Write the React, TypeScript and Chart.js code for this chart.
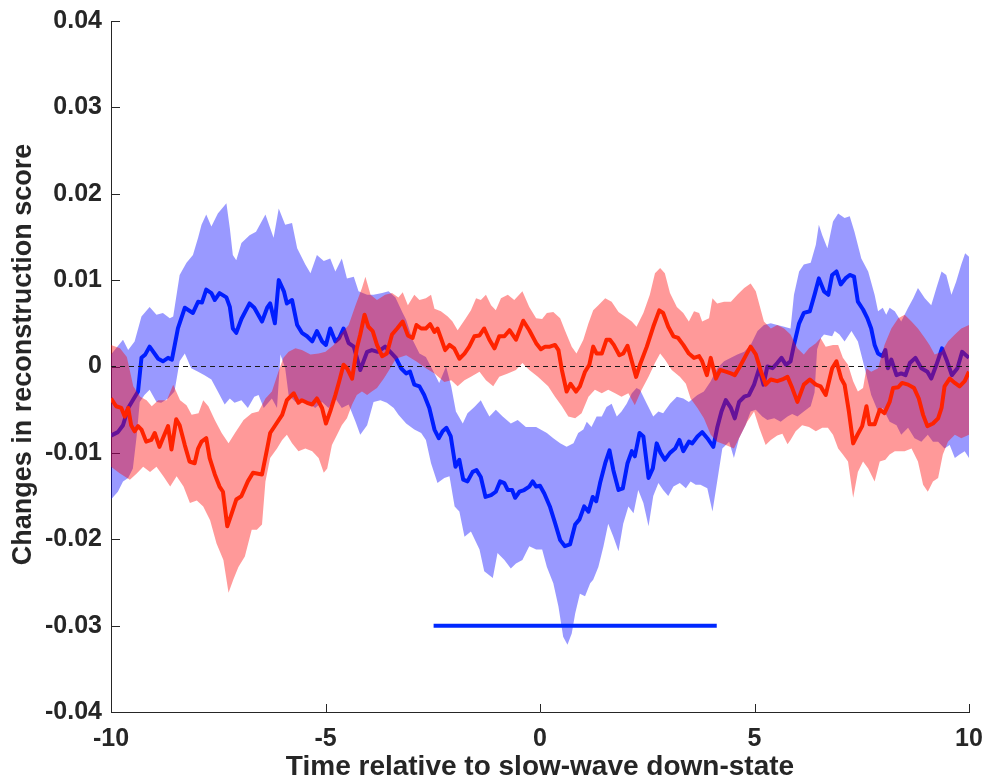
import React, { useEffect, useRef } from "react";
import { Chart, registerables } from "chart.js";

Chart.register(...registerables);

// ---- data (time in s, value = change in reconstruction score) ----
const blueMean: [number, number][] = [
  [-10, -0.008], [-9.84, -0.0076], [-9.72, -0.0068], [-9.6, -0.0048], [-9.37, -0.0029], [-9.29, 0.001],
  [-9.2, 0.0014], [-9.1, 0.0023], [-8.9, 0.0009], [-8.79, 0.0006], [-8.67, 0.001], [-8.58, 0.0008],
  [-8.44, 0.0044], [-8.28, 0.0068], [-8.09, 0.0062], [-7.97, 0.0075], [-7.88, 0.0074], [-7.78, 0.0089],
  [-7.66, 0.0085], [-7.58, 0.0077], [-7.47, 0.0085], [-7.31, 0.008], [-7.23, 0.0069], [-7.16, 0.0044],
  [-7.08, 0.0039], [-6.96, 0.0055], [-6.77, 0.0073], [-6.66, 0.0068], [-6.48, 0.0052], [-6.36, 0.0068],
  [-6.29, 0.0073], [-6.18, 0.005], [-6.09, 0.01], [-5.97, 0.0087], [-5.9, 0.0073], [-5.78, 0.0077],
  [-5.66, 0.0048], [-5.55, 0.0039], [-5.43, 0.0035], [-5.31, 0.0029], [-5.2, 0.0041], [-5.08, 0.0029],
  [-4.99, 0.0025], [-4.89, 0.0044], [-4.77, 0.0029], [-4.68, 0.0033], [-4.58, 0.0044], [-4.46, 0.0027],
  [-4.34, 0.0023], [-4.19, -0.0004], [-4.03, 0.0017], [-3.92, 0.0019], [-3.78, 0.0017], [-3.61, 0.0023],
  [-3.49, 0.0017], [-3.36, 0.001], [-3.24, -0.0002], [-3.12, -0.0008], [-3.03, -0.0006], [-2.93, -0.0021],
  [-2.81, -0.0023], [-2.7, -0.0033], [-2.58, -0.0048], [-2.46, -0.0073], [-2.36, -0.0083], [-2.27, -0.0075],
  [-2.18, -0.0071], [-2.08, -0.0081], [-1.97, -0.0116], [-1.88, -0.0108], [-1.79, -0.0131], [-1.69, -0.0133],
  [-1.57, -0.0122], [-1.48, -0.012], [-1.38, -0.0128], [-1.27, -0.0151], [-1.14, -0.0149], [-1.03, -0.0145],
  [-0.93, -0.0133], [-0.83, -0.0135], [-0.75, -0.0143], [-0.65, -0.0143], [-0.58, -0.0152], [-0.48, -0.0145],
  [-0.37, -0.0143], [-0.25, -0.0139], [-0.17, -0.0133], [-0.09, -0.0139], [0, -0.0138], [0.1, -0.0147],
  [0.23, -0.0162], [0.35, -0.0181], [0.47, -0.0201], [0.58, -0.0208], [0.7, -0.0206], [0.82, -0.0183],
  [0.92, -0.0177], [1.03, -0.0162], [1.13, -0.0168], [1.23, -0.0151], [1.31, -0.0156], [1.4, -0.0135],
  [1.52, -0.0112], [1.62, -0.0097], [1.71, -0.012], [1.83, -0.0143], [1.93, -0.0141], [2.04, -0.0112],
  [2.14, -0.0098], [2.21, -0.0104], [2.32, -0.0077], [2.41, -0.0081], [2.53, -0.0129], [2.63, -0.0118],
  [2.72, -0.0089], [2.81, -0.01], [2.91, -0.0108], [3.03, -0.01], [3.15, -0.0095], [3.25, -0.0085],
  [3.34, -0.0098], [3.47, -0.0087], [3.55, -0.0089], [3.67, -0.0081], [3.78, -0.0076], [3.9, -0.0083],
  [4.04, -0.0093], [4.13, -0.0071], [4.23, -0.0052], [4.33, -0.0039], [4.45, -0.0048], [4.54, -0.006],
  [4.64, -0.0041], [4.76, -0.0035], [4.87, -0.0033], [4.99, -0.0021], [5.11, -0.0002], [5.21, -0.0021],
  [5.3, 0], [5.42, -0.0002], [5.53, 0.0004], [5.63, 0.001], [5.73, 0.0002], [5.84, 0.0006],
  [5.92, 0.0025], [6.04, 0.005], [6.15, 0.0062], [6.29, 0.0064], [6.41, 0.0085], [6.5, 0.0102],
  [6.62, 0.0087], [6.72, 0.0083], [6.81, 0.0106], [6.91, 0.011], [7.01, 0.0095], [7.12, 0.0102],
  [7.22, 0.0106], [7.32, 0.0104], [7.41, 0.0075], [7.53, 0.0066], [7.63, 0.0056], [7.72, 0.0044],
  [7.8, 0.0025], [7.88, 0.0015], [7.98, 0.0012], [8.05, 0.0019], [8.11, -0.0002], [8.19, 0.0008],
  [8.31, -0.001], [8.42, -0.0008], [8.52, -0.001], [8.62, 0.0004], [8.75, 0.001], [8.89, -0.0002],
  [9.03, -0.0006], [9.12, -0.0014], [9.24, 0.0002], [9.37, 0.0021], [9.49, 0.0006], [9.6, -0.001],
  [9.73, -0.0002], [9.84, 0.0017], [9.91, 0.0014], [10, 0.001],
];

const blueUpper: [number, number][] = [
  [-10, 0.0014], [-9.72, 0.0031], [-9.6, 0.0019], [-9.45, 0.0029], [-9.29, 0.0058], [-9.1, 0.0069],
  [-8.94, 0.006], [-8.79, 0.0062], [-8.63, 0.0056], [-8.55, 0.0058], [-8.4, 0.0106], [-8.24, 0.012],
  [-8.09, 0.0129], [-7.97, 0.0149], [-7.89, 0.0164], [-7.78, 0.0176], [-7.66, 0.0162], [-7.51, 0.0177],
  [-7.31, 0.0189], [-7.23, 0.016], [-7.16, 0.0129], [-7.08, 0.0123], [-6.96, 0.0143], [-6.77, 0.0152],
  [-6.62, 0.0156], [-6.4, 0.0176], [-6.21, 0.0149], [-6.09, 0.0183], [-5.94, 0.0164], [-5.78, 0.0166],
  [-5.66, 0.0137], [-5.47, 0.0118], [-5.35, 0.0108], [-5.2, 0.0129], [-5.04, 0.0122], [-4.89, 0.0125],
  [-4.77, 0.011], [-4.62, 0.0125], [-4.5, 0.0102], [-4.34, 0.0104], [-4.23, 0.0087], [-4.03, 0.0083],
  [-3.88, 0.0083], [-3.68, 0.0085], [-3.53, 0.0087], [-3.37, 0.008], [-3.2, 0.0062], [-3.12, 0.0054],
  [-2.97, 0.0031], [-2.81, 0.0015], [-2.66, 0.0011], [-2.46, -0.0008], [-2.35, -0.0019], [-2.19, 0],
  [-2.07, -0.0023], [-1.96, -0.0052], [-1.8, -0.0066], [-1.69, -0.0054], [-1.53, -0.0047], [-1.38, -0.0039],
  [-1.3, -0.0047], [-1.18, -0.0058], [-1.03, -0.005], [-0.87, -0.0058], [-0.68, -0.0066], [-0.52, -0.0062],
  [-0.33, -0.007], [-0.09, -0.007], [0.16, -0.0077], [0.31, -0.0083], [0.47, -0.0089], [0.62, -0.0093],
  [0.78, -0.0089], [0.89, -0.0077], [1.01, -0.0073], [1.09, -0.0064], [1.2, -0.007], [1.32, -0.0058],
  [1.44, -0.0058], [1.55, -0.0047], [1.67, -0.0043], [1.79, -0.0058], [1.9, -0.0052], [2.02, -0.0043],
  [2.14, -0.0031], [2.25, -0.0025], [2.33, -0.0027], [2.49, -0.0043], [2.64, -0.0058], [2.76, -0.0052],
  [2.87, -0.0054], [3.03, -0.0043], [3.19, -0.0035], [3.34, -0.0037], [3.47, -0.0041], [3.67, -0.0033],
  [3.82, -0.0029], [3.98, -0.0017], [4.13, -0.0002], [4.29, 0.0006], [4.45, 0.001], [4.6, 0.0014],
  [4.76, 0.0017], [4.91, 0.0025], [5.07, 0.0041], [5.22, 0.0048], [5.38, 0.005], [5.53, 0.0048],
  [5.69, 0.0046], [5.84, 0.0044], [5.92, 0.0083], [6.04, 0.011], [6.15, 0.0118], [6.31, 0.012],
  [6.43, 0.0141], [6.5, 0.0164], [6.58, 0.0152], [6.7, 0.0137], [6.83, 0.0168], [6.95, 0.0177],
  [7.1, 0.0172], [7.22, 0.0174], [7.33, 0.0156], [7.49, 0.0125], [7.65, 0.011], [7.8, 0.0083],
  [7.88, 0.0064], [7.99, 0.0068], [8.07, 0.006], [8.15, 0.0068], [8.27, 0.0064], [8.42, 0.0052],
  [8.58, 0.0068], [8.7, 0.0079], [8.81, 0.0091], [8.97, 0.0079], [9.12, 0.0071], [9.24, 0.0091],
  [9.36, 0.011], [9.47, 0.0106], [9.59, 0.0083], [9.7, 0.0098], [9.82, 0.0118], [9.91, 0.0131],
  [10, 0.0127],
];

const blueLower: [number, number][] = [
  [-10, -0.0154], [-9.84, -0.0145], [-9.72, -0.0133], [-9.6, -0.0129], [-9.49, -0.0118], [-9.4, -0.008],
  [-9.33, -0.0041], [-9.22, -0.0033], [-9.1, -0.0027], [-8.94, -0.0041], [-8.83, -0.0042], [-8.67, -0.0037],
  [-8.52, -0.0029], [-8.4, 0.0006], [-8.28, 0.0015], [-8.13, -0.0002], [-7.97, -0.0006], [-7.82, -0.001],
  [-7.66, -0.0015], [-7.51, -0.0029], [-7.35, -0.0044], [-7.23, -0.0037], [-7.12, -0.0042], [-6.96, -0.0039],
  [-6.81, -0.0048], [-6.66, -0.0035], [-6.56, -0.0033], [-6.44, -0.0048], [-6.25, -0.0037], [-6.13, -0.0048],
  [-6.05, 0.0014], [-5.94, -0.0002], [-5.86, -0.0033], [-5.7, -0.0041], [-5.55, -0.0037], [-5.39, -0.0042],
  [-5.24, -0.0048], [-5.08, -0.0041], [-4.93, -0.0048], [-4.77, -0.0037], [-4.62, -0.0048], [-4.46, -0.0044],
  [-4.3, -0.0064], [-4.19, -0.0079], [-4.03, -0.0068], [-3.88, -0.0041], [-3.72, -0.0039], [-3.57, -0.0042],
  [-3.41, -0.0048], [-3.3, -0.0056], [-3.12, -0.0066], [-2.93, -0.0073], [-2.77, -0.0077], [-2.66, -0.0085],
  [-2.54, -0.0112], [-2.39, -0.0135], [-2.23, -0.0129], [-2.11, -0.0127], [-1.99, -0.0162], [-1.88, -0.0168],
  [-1.76, -0.0197], [-1.61, -0.0191], [-1.41, -0.0212], [-1.3, -0.0237], [-1.1, -0.0245], [-0.99, -0.0216],
  [-0.83, -0.0224], [-0.68, -0.0234], [-0.56, -0.0228], [-0.41, -0.0224], [-0.25, -0.0208], [-0.09, -0.0212],
  [0.05, -0.0212], [0.16, -0.0232], [0.31, -0.0251], [0.43, -0.0278], [0.54, -0.0313], [0.64, -0.0322],
  [0.74, -0.0309], [0.82, -0.0286], [0.93, -0.0263], [1.05, -0.0266], [1.17, -0.0251], [1.24, -0.0247],
  [1.36, -0.0232], [1.48, -0.0208], [1.59, -0.0182], [1.71, -0.0197], [1.83, -0.0214], [1.94, -0.0182],
  [2.06, -0.0162], [2.18, -0.017], [2.29, -0.0143], [2.41, -0.0158], [2.53, -0.0185], [2.64, -0.015],
  [2.76, -0.0135], [2.87, -0.0143], [2.99, -0.015], [3.11, -0.0139], [3.26, -0.0135], [3.4, -0.0141],
  [3.51, -0.0133], [3.63, -0.0137], [3.74, -0.0137], [3.9, -0.0141], [4.02, -0.0168], [4.13, -0.0133],
  [4.25, -0.0095], [4.41, -0.0087], [4.52, -0.0106], [4.64, -0.0083], [4.79, -0.0068], [4.91, -0.0052],
  [5.03, -0.005], [5.18, -0.0058], [5.3, -0.0062], [5.46, -0.006], [5.61, -0.0064], [5.77, -0.0058],
  [5.88, -0.0055], [6, -0.0058], [6.15, -0.0052], [6.31, -0.0046], [6.4, -0.003], [6.46, 0.002],
  [6.55, 0.0033], [6.62, 0.0037], [6.81, 0.0035], [6.87, 0.0041], [6.98, 0.0037], [7.1, 0.0029],
  [7.26, 0.0041], [7.41, 0.0029], [7.57, -0.0002], [7.72, -0.0033], [7.88, -0.0052], [7.99, -0.0048],
  [8.15, -0.0064], [8.31, -0.0068], [8.42, -0.0079], [8.58, -0.0071], [8.73, -0.0083], [8.89, -0.0087],
  [9.04, -0.0079], [9.16, -0.0087], [9.28, -0.0087], [9.43, -0.0095], [9.55, -0.0091], [9.67, -0.0106],
  [9.78, -0.0102], [9.9, -0.0098], [10, -0.0106],
];

const redMean: [number, number][] = [
  [-10, -0.0037], [-9.88, -0.0046], [-9.76, -0.0048], [-9.68, -0.0058], [-9.6, -0.0048], [-9.53, -0.0068],
  [-9.45, -0.0075], [-9.37, -0.0069], [-9.29, -0.0073], [-9.18, -0.0087], [-9.06, -0.0085], [-8.98, -0.0077],
  [-8.87, -0.0093], [-8.79, -0.0083], [-8.67, -0.0069], [-8.59, -0.0096], [-8.48, -0.0061], [-8.4, -0.0068],
  [-8.28, -0.0091], [-8.17, -0.011], [-8.05, -0.0112], [-7.97, -0.0095], [-7.89, -0.0087], [-7.78, -0.0083],
  [-7.7, -0.0106], [-7.58, -0.0125], [-7.47, -0.0139], [-7.39, -0.0145], [-7.29, -0.0185], [-7.2, -0.0172],
  [-7.08, -0.0154], [-6.96, -0.015], [-6.81, -0.0133], [-6.69, -0.0123], [-6.48, -0.0125], [-6.36, -0.0095],
  [-6.29, -0.0077], [-6.17, -0.0068], [-6.01, -0.0056], [-5.9, -0.0039], [-5.74, -0.0031], [-5.63, -0.0042],
  [-5.55, -0.0039], [-5.43, -0.0042], [-5.31, -0.0044], [-5.2, -0.0037], [-5.08, -0.0048], [-4.99, -0.0066],
  [-4.89, -0.0052], [-4.77, -0.0033], [-4.68, -0.0017], [-4.58, 0.0002], [-4.5, -0.0002], [-4.38, -0.0014],
  [-4.27, 0.0021], [-4.19, 0.0037], [-4.09, 0.006], [-4, 0.0046], [-3.9, 0.0041], [-3.8, 0.0025],
  [-3.68, 0.0012], [-3.57, 0.0015], [-3.45, 0.0037], [-3.33, 0.0044], [-3.2, 0.0052], [-3.08, 0.0036],
  [-2.97, 0.0033], [-2.88, 0.0048], [-2.77, 0.0044], [-2.66, 0.0044], [-2.56, 0.0049], [-2.46, 0.004],
  [-2.39, 0.0044], [-2.31, 0.0033], [-2.21, 0.0019], [-2.11, 0.0025], [-2, 0.0021], [-1.88, 0.0009],
  [-1.76, 0.0015], [-1.65, 0.0023], [-1.53, 0.0035], [-1.41, 0.0036], [-1.3, 0.0044], [-1.18, 0.0031],
  [-1.06, 0.0021], [-0.95, 0.0035], [-0.83, 0.0035], [-0.71, 0.0042], [-0.56, 0.0031], [-0.39, 0.0053],
  [-0.25, 0.0042], [-0.09, 0.0027], [0.02, 0.002], [0.12, 0.0023], [0.23, 0.0023], [0.35, 0.0025],
  [0.43, 0.0019], [0.51, -0.0004], [0.62, -0.0029], [0.71, -0.002], [0.84, -0.0029], [0.93, -0.0023],
  [1.05, -0.0006], [1.15, 0.0002], [1.24, 0.0023], [1.32, 0.0015], [1.44, 0.0015], [1.55, 0.0031],
  [1.63, 0.0031], [1.72, 0.0025], [1.85, 0.0013], [1.94, 0.0015], [2.04, 0.0024], [2.14, 0.0006],
  [2.24, -0.0012], [2.33, 0.0002], [2.49, 0.0023], [2.64, 0.0046], [2.78, 0.0065], [2.87, 0.0062],
  [2.99, 0.0046], [3.11, 0.0035], [3.22, 0.0033], [3.34, 0.0025], [3.47, 0.0015], [3.59, 0.001],
  [3.71, 0.0012], [3.78, 0.0006], [3.89, -0.001], [3.98, 0.001], [4.1, -0.0014], [4.2, -0.0004],
  [4.33, -0.0006], [4.45, -0.0008], [4.54, -0.001], [4.66, 0], [4.79, 0.0012], [4.91, 0.0023],
  [5.03, 0.0014], [5.14, -0.0004], [5.26, -0.0021], [5.38, -0.0015], [5.53, -0.0017], [5.65, -0.0015],
  [5.77, -0.0012], [5.88, -0.0025], [6, -0.0041], [6.15, -0.0021], [6.29, -0.0015], [6.43, -0.0021],
  [6.54, -0.0023], [6.66, -0.0033], [6.81, -0.0002], [6.91, 0.0006], [7.02, -0.0014], [7.1, -0.0021],
  [7.2, -0.0052], [7.3, -0.0089], [7.4, -0.0079], [7.51, -0.0069], [7.61, -0.0046], [7.68, -0.0067],
  [7.8, -0.0067], [7.92, -0.005], [8.03, -0.0054], [8.15, -0.0041], [8.23, -0.0025], [8.35, -0.0024],
  [8.44, -0.0019], [8.58, -0.0021], [8.72, -0.0025], [8.83, -0.0037], [8.93, -0.0056], [9.03, -0.0069],
  [9.16, -0.0066], [9.28, -0.006], [9.36, -0.0048], [9.43, -0.0023], [9.55, -0.0014], [9.67, -0.0019],
  [9.78, -0.0023], [9.9, -0.0017], [10, -0.0006],
];

const redUpper: [number, number][] = [
  [-10, 0.0025], [-9.79, 0.0021], [-9.63, 0.0011], [-9.48, -0.0023], [-9.32, -0.0035], [-9.17, -0.0039],
  [-9.05, -0.0046], [-8.9, -0.0039], [-8.7, -0.0039], [-8.55, -0.0021], [-8.39, -0.0039], [-8.24, -0.0045],
  [-8.12, -0.0056], [-7.96, -0.0054], [-7.85, -0.0039], [-7.73, -0.0046], [-7.58, -0.0062], [-7.42, -0.0077],
  [-7.26, -0.0089], [-7.11, -0.0077], [-6.91, -0.0062], [-6.72, -0.0054], [-6.56, -0.0052], [-6.4, -0.0037],
  [-6.25, -0.0029], [-6.09, -0.0005], [-5.98, 0.001], [-5.86, 0.0017], [-5.7, 0.0021], [-5.55, 0.0019],
  [-5.35, 0.0014], [-5.16, 0.0015], [-5, 0.0017], [-4.81, 0.0025], [-4.65, 0.0037], [-4.46, 0.0048],
  [-4.3, 0.0071], [-4.15, 0.0091], [-4.07, 0.0104], [-3.95, 0.0083], [-3.8, 0.0077], [-3.61, 0.0083],
  [-3.45, 0.0085], [-3.3, 0.008], [-3.2, 0.0086], [-3.08, 0.0071], [-2.93, 0.0083], [-2.81, 0.0077],
  [-2.66, 0.0079], [-2.54, 0.0083], [-2.46, 0.0067], [-2.31, 0.0064], [-2.15, 0.0058], [-2.04, 0.0052],
  [-1.92, 0.0042], [-1.73, 0.0056], [-1.61, 0.0065], [-1.49, 0.0079], [-1.38, 0.0077], [-1.26, 0.0083],
  [-1.14, 0.0071], [-1.03, 0.0065], [-0.91, 0.0079], [-0.75, 0.0083], [-0.6, 0.0077], [-0.41, 0.0087],
  [-0.25, 0.0069], [-0.09, 0.0056], [0.05, 0.0055], [0.16, 0.0062], [0.31, 0.0063], [0.47, 0.0056],
  [0.58, 0.0042], [0.74, 0.0023], [0.85, 0.0015], [1.01, 0.0031], [1.13, 0.005], [1.24, 0.0065],
  [1.36, 0.0071], [1.52, 0.0079], [1.67, 0.0075], [1.83, 0.0063], [1.98, 0.0058], [2.14, 0.0052],
  [2.25, 0.0046], [2.41, 0.0062], [2.56, 0.0083], [2.68, 0.0108], [2.8, 0.0114], [2.91, 0.0108],
  [3.03, 0.0085], [3.19, 0.0069], [3.34, 0.0062], [3.47, 0.0052], [3.59, 0.0064], [3.71, 0.0062],
  [3.78, 0.0052], [3.94, 0.0056], [4.02, 0.0079], [4.13, 0.0073], [4.29, 0.0075], [4.45, 0.0075],
  [4.6, 0.0083], [4.76, 0.0091], [4.91, 0.0096], [5.03, 0.0087], [5.22, 0.0052], [5.38, 0.0044],
  [5.53, 0.0048], [5.69, 0.0044], [5.84, 0.0037], [6, 0.0021], [6.15, 0.0014], [6.27, 0.0021],
  [6.43, 0.0027], [6.54, 0.0033], [6.66, 0.0023], [6.83, 0.0025], [6.95, 0.0025], [7.06, 0.001],
  [7.18, 0.0002], [7.3, -0.0017], [7.41, -0.0029], [7.53, -0.0025], [7.61, -0.0002], [7.72, -0.0006],
  [7.88, -0.0002], [8.03, 0.0025], [8.19, 0.0044], [8.35, 0.0056], [8.5, 0.006], [8.66, 0.0052],
  [8.81, 0.0044], [8.97, 0.0033], [9.08, 0.0025], [9.2, 0.0014], [9.36, 0.0017], [9.51, 0.0029],
  [9.67, 0.0037], [9.82, 0.0044], [10, 0.0048],
];

const redLower: [number, number][] = [
  [-10, -0.0116], [-9.79, -0.0124], [-9.56, -0.0131], [-9.4, -0.0124], [-9.25, -0.0116], [-9.09, -0.0122],
  [-8.94, -0.0116], [-8.78, -0.0127], [-8.62, -0.0139], [-8.47, -0.0127], [-8.31, -0.0139], [-8.16, -0.0158],
  [-8, -0.0155], [-7.85, -0.0162], [-7.69, -0.0178], [-7.54, -0.0205], [-7.38, -0.0224], [-7.26, -0.0262],
  [-7.15, -0.0247], [-7.03, -0.0232], [-6.88, -0.022], [-6.72, -0.0189], [-6.6, -0.0189], [-6.48, -0.0183],
  [-6.4, -0.0133], [-6.29, -0.0106], [-6.13, -0.0095], [-6.01, -0.0085], [-5.9, -0.0079], [-5.78, -0.0089],
  [-5.63, -0.0098], [-5.47, -0.0095], [-5.31, -0.0098], [-5.16, -0.0106], [-5.04, -0.0123], [-4.96, -0.0118],
  [-4.85, -0.0091], [-4.73, -0.0079], [-4.62, -0.0068], [-4.5, -0.006], [-4.38, -0.0044], [-4.27, -0.0033],
  [-4.15, -0.0029], [-4.03, -0.0033], [-3.92, -0.0029], [-3.8, -0.0025], [-3.64, -0.0014], [-3.49, -0.0002],
  [-3.36, 0.0009], [-3.12, 0.0013], [-2.89, 0.0006], [-2.66, -0.0002], [-2.46, -0.0008], [-2.23, -0.0018],
  [-2.07, -0.0016], [-1.92, -0.0023], [-1.76, -0.0016], [-1.61, -0.0012], [-1.41, -0.0006], [-1.26, -0.0016],
  [-1.09, -0.0023], [-0.95, -0.0012], [-0.75, -0.0008], [-0.56, -0.0004], [-0.41, 0.0004], [-0.25, -0.0004],
  [-0.05, -0.0012], [0.19, -0.0023], [0.35, -0.0035], [0.51, -0.0046], [0.66, -0.0058], [0.82, -0.006],
  [0.97, -0.0054], [1.13, -0.0035], [1.28, -0.0027], [1.44, -0.0031], [1.59, -0.0027], [1.75, -0.0031],
  [1.9, -0.0035], [2.06, -0.0031], [2.21, -0.0045], [2.37, -0.0027], [2.53, -0.0012], [2.68, 0.0004],
  [2.8, 0.0015], [2.91, 0.0008], [3.07, -0.0004], [3.26, -0.0012], [3.4, -0.002], [3.51, -0.0037],
  [3.67, -0.0048], [3.82, -0.006], [3.98, -0.0079], [4.13, -0.0087], [4.33, -0.0091], [4.52, -0.0095],
  [4.68, -0.0079], [4.83, -0.0064], [4.99, -0.0052], [5.11, -0.0071], [5.26, -0.0091], [5.38, -0.0085],
  [5.53, -0.008], [5.65, -0.0078], [5.77, -0.009], [5.84, -0.0085], [5.96, -0.0075], [6.11, -0.0068],
  [6.27, -0.007], [6.43, -0.0075], [6.58, -0.0071], [6.71, -0.0071], [6.83, -0.0079], [6.95, -0.0095],
  [7.06, -0.0102], [7.18, -0.011], [7.3, -0.0152], [7.41, -0.0122], [7.53, -0.011], [7.65, -0.0118],
  [7.8, -0.0133], [7.92, -0.011], [8.05, -0.0108], [8.15, -0.0102], [8.27, -0.0098], [8.38, -0.0098],
  [8.5, -0.0098], [8.66, -0.0095], [8.81, -0.011], [8.93, -0.0137], [9.04, -0.0145], [9.16, -0.0133],
  [9.28, -0.0129], [9.39, -0.0102], [9.51, -0.0087], [9.67, -0.0079], [9.82, -0.0083], [10, -0.0079],
];

const significanceBar: [number, number][] = [[-2.48, -0.03], [4.12, -0.03]];
const zeroLine: [number, number][] = [[-10, 0], [10, 0]];
const xTickValues = [-10, -5, 0, 5, 10];
const yTickValues = [-0.04, -0.03, -0.02, -0.01, 0, 0.01, 0.02, 0.03, 0.04];
const xTitle = "Time relative to slow-wave down-state";
const yTitle = "Changes in reconstruction score";

const toXY = (a: [number, number][]) => a.map(([x, y]) => ({ x, y }));

const AXIS = "#262626";
const FONT = "'Liberation Sans', Arial, Helvetica, sans-serif";

const innerTicks = {
  id: "innerTicks",
  beforeDatasetsDraw(chart: any) {
    const { ctx, chartArea, scales } = chart;
    const xs = scales.x;
    const ys = scales.y;
    ctx.save();
    ctx.strokeStyle = AXIS;
    ctx.lineWidth = 1;
    xTickValues.forEach((v) => {
      const px = Math.round(xs.getPixelForValue(v)) + 0.5;
      ctx.beginPath();
      ctx.moveTo(px, chartArea.bottom);
      ctx.lineTo(px, chartArea.bottom - 8);
      ctx.stroke();
    });
    yTickValues.forEach((v) => {
      const py = Math.round(ys.getPixelForValue(v)) + 0.5;
      ctx.beginPath();
      ctx.moveTo(chartArea.left, py);
      ctx.lineTo(chartArea.left + 9, py);
      ctx.stroke();
    });
    ctx.restore();
  },
};

// y-axis title, drawn as canvas text (slightly above the axis centre as in the reference)
const yTitlePlugin = {
  id: "yTitlePlugin",
  afterDraw(chart: any) {
    const { ctx, chartArea } = chart;
    ctx.save();
    ctx.fillStyle = AXIS;
    ctx.font = `bold 27px ${FONT}`;
    ctx.textAlign = "center";
    ctx.textBaseline = "middle";
    ctx.translate(24, (chartArea.top + chartArea.bottom) / 2 - 12);
    ctx.rotate(-Math.PI / 2);
    ctx.fillText(yTitle, 0, 0);
    ctx.restore();
  },
};

export default function App() {
  const ref = useRef<HTMLCanvasElement | null>(null);

  useEffect(() => {
    if (!ref.current) return;
    const blueBand = "rgba(0,0,255,0.4)";
    const redBand = "rgba(255,0,0,0.4)";
    const chart = new Chart(ref.current, {
      type: "line",
      data: {
        datasets: [
          { // 0
            label: "sig", data: toXY(significanceBar), borderColor: "rgb(0,40,255)", borderWidth: 4,
            pointRadius: 0, fill: false, order: 0, borderCapStyle: "butt",
          },
          { // 1
            label: "red", data: toXY(redMean), borderColor: "rgb(255,35,0)", borderWidth: 4,
            pointRadius: 0, fill: false, order: 1, borderJoinStyle: "round",
          },
          { // 2
            label: "redUpper", data: toXY(redUpper), borderWidth: 0, borderColor: "rgba(0,0,0,0)",
            backgroundColor: redBand, pointRadius: 0, fill: { target: 3, above: redBand, below: redBand }, order: 2,
          },
          { // 3
            label: "redLower", data: toXY(redLower), borderWidth: 0, borderColor: "rgba(0,0,0,0)",
            pointRadius: 0, fill: false, order: 2,
          },
          { // 4
            label: "blue", data: toXY(blueMean), borderColor: "rgb(0,30,255)", borderWidth: 4,
            pointRadius: 0, fill: false, order: 3, borderJoinStyle: "round",
          },
          { // 5
            label: "blueUpper", data: toXY(blueUpper), borderWidth: 0, borderColor: "rgba(0,0,0,0)",
            backgroundColor: blueBand, pointRadius: 0, fill: { target: 6, above: blueBand, below: blueBand }, order: 4,
          },
          { // 6
            label: "blueLower", data: toXY(blueLower), borderWidth: 0, borderColor: "rgba(0,0,0,0)",
            pointRadius: 0, fill: false, order: 4,
          },
          { // 7
            label: "zero", data: toXY(zeroLine), borderColor: "#1a1a1a", borderWidth: 1,
            borderDash: [5, 4], pointRadius: 0, fill: false, order: 1.5,
          },
        ],
      },
      options: {
        animation: false,
        responsive: false,
        layout: { padding: { left: 0, right: 17, top: 21, bottom: 0 } },
        plugins: { legend: { display: false }, tooltip: { enabled: false } },
        elements: { line: { tension: 0 } },
        scales: {
          x: {
            type: "linear",
            min: -10,
            max: 10,
            afterFit: (s: any) => { s.height = 72; s.paddingLeft = 0; s.paddingRight = 0; },
            afterBuildTicks: (s: any) => { s.ticks = xTickValues.map((v) => ({ value: v })); },
            grid: { display: false, drawTicks: false },
            border: { display: true, color: AXIS, width: 1 },
            ticks: {
              color: AXIS,
              padding: 12,
              maxRotation: 0,
              font: { family: FONT, size: 25, weight: "bold" },
              callback: (v: any) => String(v),
            },
            title: {
              display: true,
              text: xTitle,
              color: AXIS,
              font: { family: FONT, size: 28, weight: "bold" },
              padding: { top: 0, bottom: 0 },
            },
          },
          y: {
            type: "linear",
            min: -0.04,
            max: 0.04,
            afterFit: (s: any) => { s.width = 111; s.paddingTop = 0; s.paddingBottom = 0; },
            afterBuildTicks: (s: any) => { s.ticks = yTickValues.map((v) => ({ value: v })); },
            grid: { display: false, drawTicks: false },
            border: { display: true, color: AXIS, width: 1 },
            ticks: {
              color: AXIS,
              padding: 9,
              font: { family: FONT, size: 25, weight: "bold" },
              callback: (v: any) => String(Number(Number(v).toFixed(2))),
            },
            title: { display: false },
          },
        },
      },
      plugins: [innerTicks, yTitlePlugin],
    });
    return () => chart.destroy();
  }, []);

  return (
    <div style={{ position: "absolute", left: 0, top: 0, width: 986, height: 784, background: "#fff" }}>
      <canvas ref={ref} width={986} height={784} style={{ display: "block" }} />
    </div>
  );
}
